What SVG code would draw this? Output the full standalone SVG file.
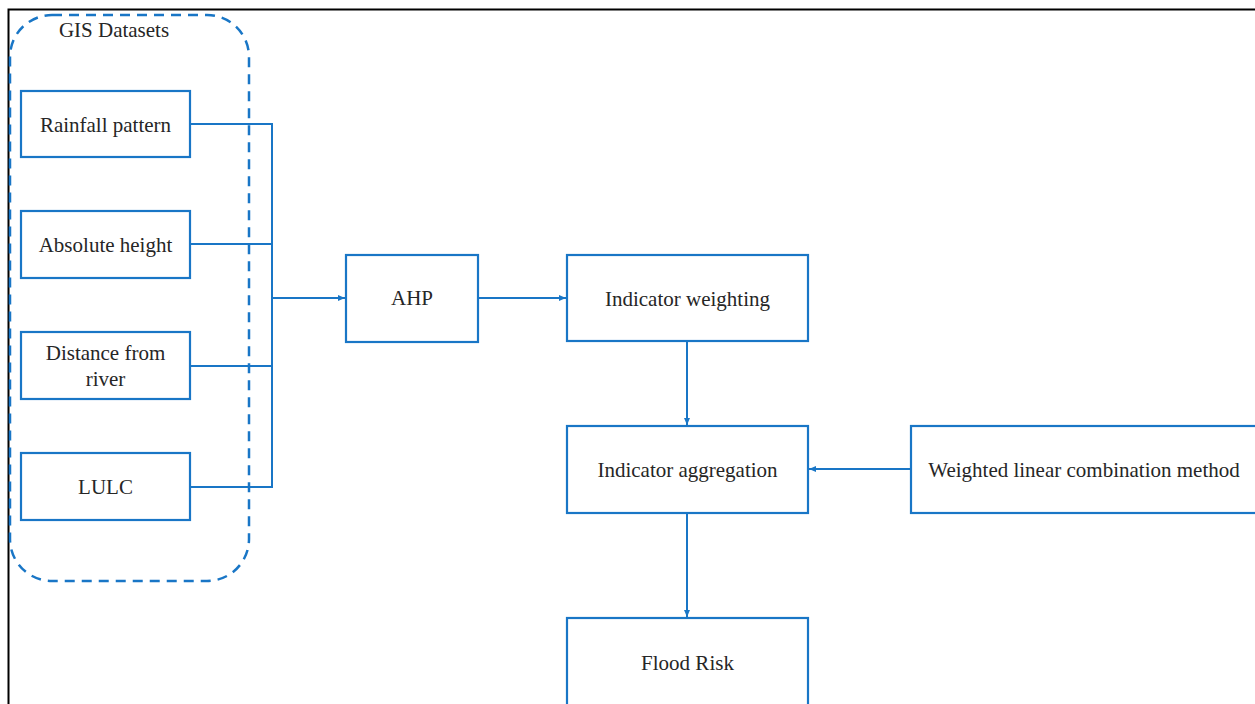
<svg xmlns="http://www.w3.org/2000/svg" width="1255" height="704" viewBox="0 0 1255 704">
<style>
.box{fill:#fff;stroke:#1976c6;stroke-width:2.2}
.t{font-family:"Liberation Serif","Times New Roman",serif;font-size:21px;fill:#262626;text-anchor:middle}
.c{fill:none;stroke:#1976c6;stroke-width:2}
</style>
<defs>
<marker id="ah" markerWidth="8" markerHeight="8" refX="7" refY="4" orient="auto" markerUnits="userSpaceOnUse">
<path d="M0,1 L7,4 L0,7 Z" fill="#1976c6"/>
</marker>
</defs>
<rect width="1255" height="704" fill="#fff"/>
<path d="M8.5,704 V9.5 H1255" fill="none" stroke="#000" stroke-width="2"/>
<g id="gis">
<rect x="10" y="15" width="239" height="566" rx="42" fill="none" stroke="#1976c6" stroke-width="2.5" stroke-dasharray="10,7"/>
<text class="t" x="114" y="37">GIS Datasets</text>
</g>
<g id="connectors">
<path class="c" d="M191,124 H272 V487 H191"/>
<path class="c" d="M191,244 H272"/>
<path class="c" d="M191,366 H272"/>
<path class="c" d="M272,298 H345" marker-end="url(#ah)"/>
<path class="c" d="M479,298 H566" marker-end="url(#ah)"/>
<path class="c" d="M687,342 V425" marker-end="url(#ah)"/>
<path class="c" d="M910,469 H809" marker-end="url(#ah)"/>
<path class="c" d="M687,514 V617" marker-end="url(#ah)"/>
</g>
<g id="rainfall"><rect class="box" x="21" y="91" width="169" height="66"/><text class="t" x="105.5" y="132">Rainfall pattern</text></g>
<g id="absolute"><rect class="box" x="21" y="211" width="169" height="67"/><text class="t" x="105.5" y="252">Absolute height</text></g>
<g id="distance"><rect class="box" x="21" y="332" width="169" height="67"/><text class="t" x="105.5" y="360">Distance from</text><text class="t" x="105.5" y="386">river</text></g>
<g id="lulc"><rect class="box" x="21" y="453" width="169" height="67"/><text class="t" x="105.5" y="494">LULC</text></g>
<g id="ahp"><rect class="box" x="346" y="255" width="132" height="87"/><text class="t" x="412" y="305">AHP</text></g>
<g id="weighting"><rect class="box" x="567" y="255" width="241" height="86"/><text class="t" x="687.5" y="306">Indicator weighting</text></g>
<g id="aggregation"><rect class="box" x="567" y="426" width="241" height="87"/><text class="t" x="687.5" y="477">Indicator aggregation</text></g>
<g id="wlc"><rect class="box" x="911" y="426" width="350" height="87"/><text class="t" x="1084" y="477">Weighted linear combination method</text></g>
<g id="flood"><rect class="box" x="567" y="618" width="241" height="96"/><text class="t" x="687.5" y="670">Flood Risk</text></g>
</svg>
